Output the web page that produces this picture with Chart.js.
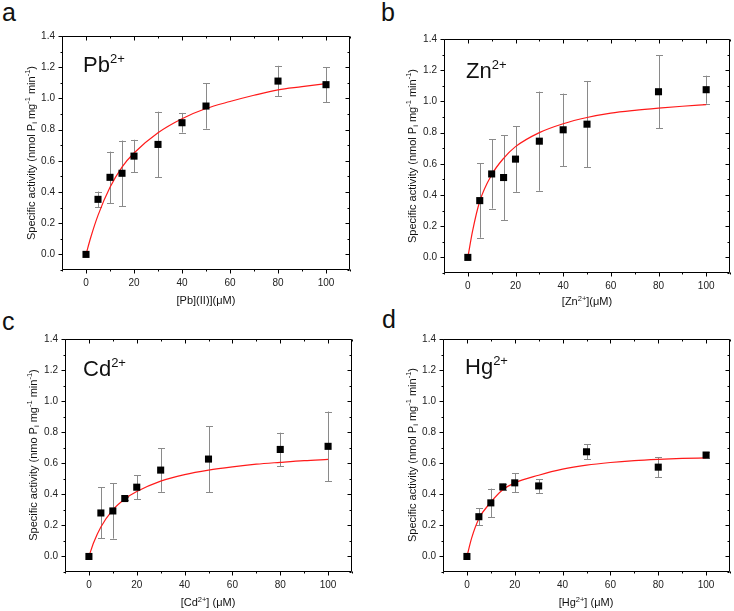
<!DOCTYPE html>
<html>
<head>
<meta charset="utf-8">
<script src="https://cdn.jsdelivr.net/npm/chart.js@4.4.0/dist/chart.umd.min.js"></script>
<style>
  html, body { margin: 0; padding: 0; background: #fff; overflow: hidden; }
  #wrap { position: relative; width: 734px; height: 611px; font-family: "Liberation Sans", Arial, sans-serif; color: #111; }
  canvas { position: absolute; }
  .lbl { position: absolute; white-space: nowrap; line-height: 1; }
  .letter { font-size: 25px; }
  .ion { font-size: 22px; }
  .ion sup { font-size: 13px; vertical-align: 9px; }
  .title { font-size: 11px; transform: translate(-50%, -50%); }
  .ytitle { transform: translate(-50%, -50%) rotate(-90deg); }
  .title sup { font-size: 7.5px; vertical-align: 4.5px; }
  .title sub { font-size: 7.5px; vertical-align: -2px; }
</style>
</head>
<body>
<div id="wrap">
  <canvas id="cA"></canvas>
  <canvas id="cB"></canvas>
  <canvas id="cC"></canvas>
  <canvas id="cD"></canvas>

  <div class="lbl letter" style="left:2px; top:0px;">a</div>
  <div class="lbl letter" style="left:381px; top:0px;">b</div>
  <div class="lbl letter" style="left:2px; top:309px;">c</div>
  <div class="lbl letter" style="left:382px; top:307px;">d</div>

  <div class="lbl ion" style="left:83px; top:52px;">Pb<sup>2+</sup></div>
  <div class="lbl ion" style="left:466px; top:58px;">Zn<sup>2+</sup></div>
  <div class="lbl ion" style="left:83px; top:356px;">Cd<sup>2+</sup></div>
  <div class="lbl ion" style="left:465px; top:354px;">Hg<sup>2+</sup></div>

  <div class="lbl title ytitle" style="left:31px; top:153px;">Specific activity (nmol P<sub>i</sub> mg<sup>-1</sup> min<sup>-1</sup>)</div>
  <div class="lbl title ytitle" style="left:412px; top:156px;">Specific activity (nmol P<sub>i</sub> mg<sup>-1</sup> min<sup>-1</sup>)</div>
  <div class="lbl title ytitle" style="left:33px; top:455px;">Specific activity (nmo P<sub>i</sub> mg<sup>-1</sup> min<sup>-1</sup>)</div>
  <div class="lbl title ytitle" style="left:412px; top:455px;">Specific activity (nmol P<sub>i</sub> mg<sup>-1</sup> min<sup>-1</sup>)</div>

  <div class="lbl title" style="left:206px; top:300px;">[Pb](II)](&mu;M)</div>
  <div class="lbl title" style="left:587px; top:301px;">[Zn<sup>2+</sup>](&mu;M)</div>
  <div class="lbl title" style="left:208px; top:602px;">[Cd<sup>2+</sup>] (&mu;M)</div>
  <div class="lbl title" style="left:586px; top:602px;">[Hg<sup>2+</sup>] (&mu;M)</div>
</div>

<script>
// concentrations (uM)
const conc = [0, 5, 10, 15, 20, 30, 40, 50, 80, 100];
const concCd = [0, 5, 10, 15, 20, 30, 50, 80, 100];
const concHg = [0, 5, 10, 15, 20, 30, 50, 80, 100];

// measured activity and error bars
const pbMean = [0, 0.353, 0.494, 0.52, 0.63, 0.705, 0.844, 0.951, 1.111, 1.088];
const pbErr = [0, 0.05, 0.165, 0.21, 0.105, 0.21, 0.063, 0.145, 0.098, 0.112];
const znMean = [0, 0.364, 0.535, 0.512, 0.63, 0.745, 0.818, 0.854, 1.062, 1.075];
const znErr = [0, 0.238, 0.222, 0.272, 0.21, 0.318, 0.232, 0.277, 0.233, 0.09];
const cdMean = [0, 0.28, 0.293, 0.373, 0.446, 0.556, 0.627, 0.689, 0.709];
const cdErr = [0, 0.164, 0.178, 0.012, 0.077, 0.14, 0.212, 0.108, 0.224];
const hgMean = [0, 0.256, 0.345, 0.448, 0.474, 0.454, 0.674, 0.575, 0.653];
const hgErr = [0, 0.055, 0.092, 0.02, 0.062, 0.045, 0.048, 0.065, 0.018];

// fitted curves
const fitX = [0, 2, 5, 10, 15, 20, 30, 40, 50, 60, 70, 80, 90, 100];
const pbFit = [0, 0.11, 0.25, 0.43, 0.56, 0.65, 0.78, 0.87, 0.935, 0.98, 1.02, 1.055, 1.075, 1.095];
const znFit = [0, 0.17, 0.36, 0.53, 0.635, 0.71, 0.80, 0.857, 0.897, 0.925, 0.943, 0.957, 0.969, 0.979];
const cdFit = [0, 0.09, 0.19, 0.30, 0.37, 0.418, 0.485, 0.527, 0.556, 0.577, 0.594, 0.606, 0.617, 0.625];
const hgFit = [0, 0.12, 0.243, 0.35, 0.43, 0.474, 0.523, 0.562, 0.588, 0.605, 0.617, 0.625, 0.631, 0.635];

// ticks
const xTicks = [0, 20, 40, 60, 80, 100];
const xMinor = [-10, 10, 30, 50, 70, 90, 110];
const yTicks = [0, 0.2, 0.4, 0.6, 0.8, 1.0, 1.2, 1.4];
const yTickLabels = ['0.0', '0.2', '0.4', '0.6', '0.8', '1.0', '1.2', '1.4'];
const yMinor = [-0.1, 0.1, 0.3, 0.5, 0.7, 0.9, 1.1, 1.3];

// chart.js keeps 13px above the plot area whatever the top padding is
const AXIS_W = 42, AXIS_H = 26, TOP_OFF = 13, PAD_R = 4;

const frameTicks = {
    id: 'frameTicks',
    beforeDatasetsDraw(chart) {
        const ctx = chart.ctx;
        const ys = chart.scales.y;
        const errs = chart.data.datasets[0].errors;
        ctx.save();
        ctx.strokeStyle = '#8a8a8a';
        ctx.lineWidth = 1;
        chart.getDatasetMeta(0).data.forEach((pt, i) => {
            const e = errs[i];
            if (!e) return;
            const v = chart.data.datasets[0].data[i].y;
            const x = Math.round(pt.x) + 0.5;
            const y1 = ys.getPixelForValue(v + e);
            const y2 = ys.getPixelForValue(v - e);
            ctx.beginPath();
            ctx.moveTo(x, y1); ctx.lineTo(x, y2);
            ctx.moveTo(x - 3.5, Math.round(y1) + 0.5); ctx.lineTo(x + 3.5, Math.round(y1) + 0.5);
            ctx.moveTo(x - 3.5, Math.round(y2) + 0.5); ctx.lineTo(x + 3.5, Math.round(y2) + 0.5);
            ctx.stroke();
        });
        ctx.restore();
    },
    afterDraw(chart) {
        const ctx = chart.ctx;
        const a = chart.chartArea;
        const xs = chart.scales.x, ys = chart.scales.y;
        const L = Math.round(a.left) + 0.5, R = Math.round(a.right) - 0.5;
        const T = Math.round(a.top) + 0.5, B = Math.round(a.bottom) - 0.5;
        ctx.save();
        ctx.strokeStyle = '#000';
        ctx.lineWidth = 1;
        ctx.beginPath();
        ctx.rect(L, T, R - L, B - T);
        // major/minor ticks: outward on left & bottom, inward on right & top
        const yt = (vals, len) => vals.forEach(v => {
            const p = Math.round(ys.getPixelForValue(v)) + 0.5;
            ctx.moveTo(L - len, p); ctx.lineTo(L, p);
            ctx.moveTo(R - len, p); ctx.lineTo(R, p);
        });
        const xt = (vals, len) => vals.forEach(v => {
            const p = Math.round(xs.getPixelForValue(v)) + 0.5;
            ctx.moveTo(p, B); ctx.lineTo(p, B + len);
            ctx.moveTo(p, T); ctx.lineTo(p, T + len);
        });
        yt(yTicks, 4); yt(yMinor, 2);
        xt(xTicks, 4); xt(xMinor, 2);
        ctx.stroke();
        ctx.restore();
    }
};

function makePanel(id, xs, means, errs, fit, box) {
    const cv = document.getElementById(id);
    const w = box.r - box.l + AXIS_W + PAD_R;
    const h = box.b - box.t + AXIS_H + TOP_OFF;
    cv.width = w; cv.height = h;
    cv.style.left = (box.l - AXIS_W) + 'px';
    cv.style.top = (box.t - TOP_OFF) + 'px';
    cv.style.width = w + 'px';
    cv.style.height = h + 'px';

    new Chart(cv, {
        type: 'scatter',
        data: {
            datasets: [
                {
                    data: xs.map((x, i) => ({ x: x, y: means[i] })),
                    errors: errs,
                    pointStyle: 'rect',
                    pointRadius: 5,
                    backgroundColor: '#000',
                    borderWidth: 0
                },
                {
                    type: 'line',
                    data: fitX.map((x, i) => ({ x: x, y: fit[i] })),
                    borderColor: '#ff1a1a',
                    borderWidth: 1.2,
                    pointRadius: 0,
                    fill: false,
                    cubicInterpolationMode: 'monotone'
                }
            ]
        },
        options: {
            responsive: false,
            animation: false,
            layout: { autoPadding: false, padding: { top: 3, right: PAD_R, left: 0, bottom: 0 } },
            plugins: { legend: { display: false }, tooltip: { enabled: false } },
            scales: {
                x: {
                    type: 'linear', min: -10, max: 110,
                    afterBuildTicks: s => { s.ticks = xTicks.map(v => ({ value: v })); },
                    afterFit: s => { s.height = AXIS_H; },
                    ticks: { color: '#222', padding: 7, maxRotation: 0, font: { family: 'Liberation Sans', size: 10 } },
                    grid: { display: false, drawTicks: false, tickLength: 0 },
                    border: { display: false }
                },
                y: {
                    type: 'linear', min: -0.1, max: 1.4,
                    afterBuildTicks: s => { s.ticks = yTicks.map(v => ({ value: v })); },
                    afterFit: s => { s.width = AXIS_W; },
                    ticks: {
                        color: '#222', padding: 7,
                        font: { family: 'Liberation Sans', size: 10 },
                        callback: (v, i) => yTickLabels[i]
                    },
                    grid: { display: false, drawTicks: false, tickLength: 0 },
                    border: { display: false }
                }
            }
        },
        plugins: [frameTicks]
    });
}

makePanel('cA', conc, pbMean, pbErr, pbFit, { l: 62, t: 36, r: 350, b: 270 });
makePanel('cB', conc, znMean, znErr, znFit, { l: 444, t: 39, r: 730, b: 273 });
makePanel('cC', concCd, cdMean, cdErr, cdFit, { l: 65, t: 339, r: 352, b: 572 });
makePanel('cD', concHg, hgMean, hgErr, hgFit, { l: 443, t: 339, r: 730, b: 572 });
</script>
</body>
</html>
